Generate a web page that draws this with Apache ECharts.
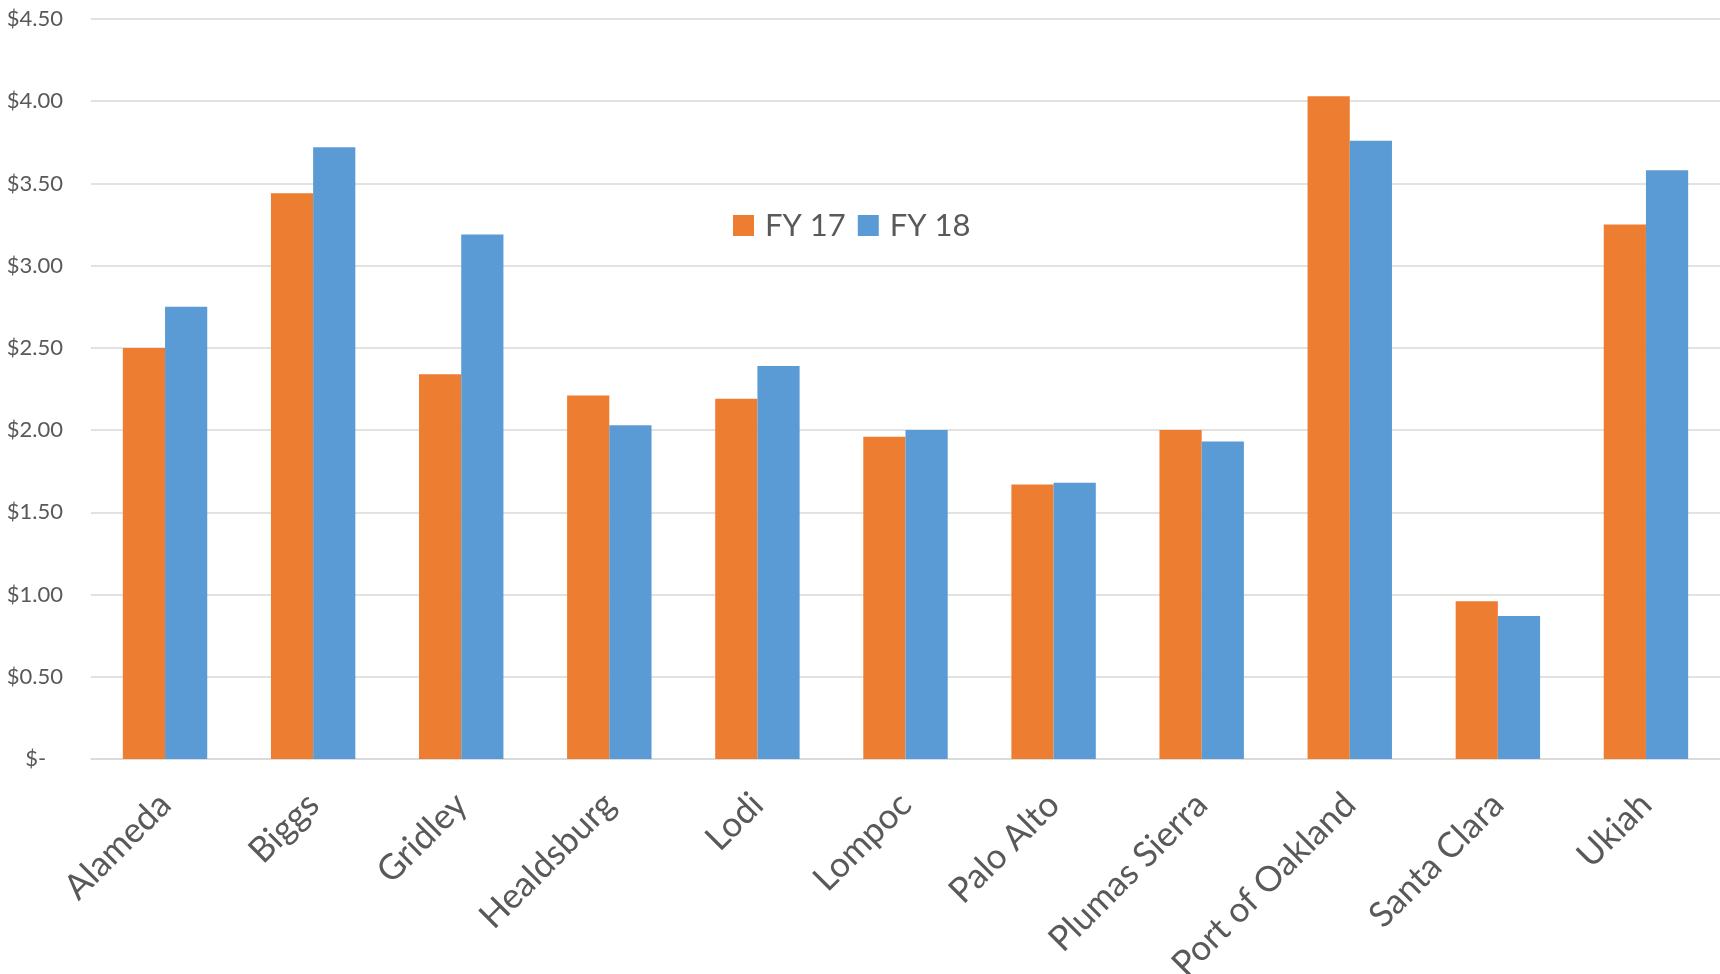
<!DOCTYPE html>
<html>
<head>
<meta charset="utf-8">
<script src="https://cdn.jsdelivr.net/npm/echarts@6/dist/echarts.min.js"></script>
<style>
  html, body { margin: 0; padding: 0; background: #fff; }
  #chart { width: 1720px; height: 974px; }
</style>
</head>
<body>
<div id="chart"></div>
<script>
const categories = ['Alameda', 'Biggs', 'Gridley', 'Healdsburg', 'Lodi', 'Lompoc',
  'Palo Alto', 'Plumas Sierra', 'Port of Oakland', 'Santa Clara', 'Ukiah'];
const fy17 = [2.50, 3.44, 2.34, 2.21, 2.19, 1.96, 1.67, 2.00, 4.03, 0.96, 3.25];
const fy18 = [2.75, 3.72, 3.19, 2.03, 2.39, 2.00, 1.68, 1.93, 3.76, 0.87, 3.58];

const font = 'Lato, "Open Sans", sans-serif';
const textColor = '#595959';

const chart = echarts.init(document.getElementById('chart'));
chart.setOption({
  animation: false,
  textStyle: { fontFamily: font },
  legend: {
    left: 728,
    top: 205,
    itemWidth: 21,
    itemHeight: 21,
    itemGap: 12,
    icon: 'rect',
    textStyle: { fontSize: 31, color: textColor, padding: [0, 0, 0, 6] },
    data: ['FY 17', 'FY 18']
  },
  grid: {
    left: 91, right: 0, top: 19, bottom: 215,
    containLabel: false,
    outerBoundsMode: 'none'
  },
  xAxis: {
    type: 'category',
    data: categories,
    axisLine: { lineStyle: { color: '#d9d9d9', width: 1.5 } },
    axisTick: { show: false },
    axisLabel: {
      interval: 0,
      rotate: 45,
      margin: 40,
      fontSize: 35,
      color: textColor
    }
  },
  yAxis: {
    type: 'value',
    min: 0,
    max: 4.5,
    interval: 0.5,
    axisLine: { show: false },
    axisTick: { show: false },
    splitLine: { lineStyle: { color: '#d9d9d9', width: 1.5 } },
    axisLabel: {
      margin: 28,
      fontSize: 22,
      color: textColor,
      formatter: v => v === 0 ? '$-   ' : '$' + v.toFixed(2)
    }
  },
  series: [
    {
      name: 'FY 17',
      type: 'bar',
      data: fy17,
      barGap: '0%',
      barCategoryGap: '43%',
      itemStyle: { color: '#ED7D31' }
    },
    {
      name: 'FY 18',
      type: 'bar',
      data: fy18,
      itemStyle: { color: '#5B9BD5' }
    }
  ]
});
</script>
</body>
</html>
